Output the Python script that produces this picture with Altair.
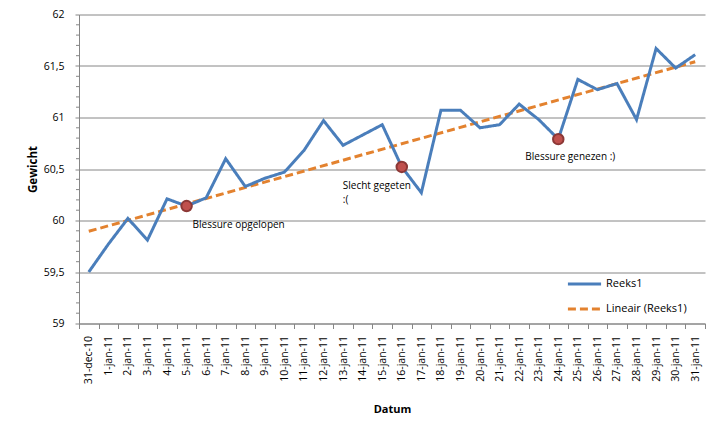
import altair as alt
import pandas as pd

dates = ['31-dec-10', '1-jan-11', '2-jan-11', '3-jan-11', '4-jan-11', '5-jan-11', '6-jan-11',
         '7-jan-11', '8-jan-11', '9-jan-11', '10-jan-11', '11-jan-11', '12-jan-11', '13-jan-11',
         '14-jan-11', '15-jan-11', '16-jan-11', '17-jan-11', '18-jan-11', '19-jan-11', '20-jan-11',
         '21-jan-11', '22-jan-11', '23-jan-11', '24-jan-11', '25-jan-11', '26-jan-11', '27-jan-11',
         '28-jan-11', '29-jan-11', '30-jan-11', '31-jan-11']
weights = [59.50, 59.77, 60.02, 59.81, 60.21, 60.14, 60.22, 60.60, 60.33, 60.41, 60.47, 60.68,
           60.97, 60.73, 60.83, 60.93, 60.52, 60.27, 61.07, 61.07, 60.90, 60.93, 61.13, 60.98,
           60.79, 61.37, 61.27, 61.33, 60.98, 61.67, 61.48, 61.61]
note_dates = ['5-jan-11', '16-jan-11', '24-jan-11']
note_texts = ['Blessure opgelopen', 'Slecht gegeten\n:(', 'Blessure genezen :)']
minor_ticks = [59.1, 59.2, 59.3, 59.4, 59.6, 59.7, 59.8, 59.9, 60.1, 60.2, 60.3, 60.4,
               60.6, 60.7, 60.8, 60.9, 61.1, 61.2, 61.3, 61.4, 61.6, 61.7, 61.8, 61.9]
series_names = ['Reeks1', 'Lineair (Reeks1)']

df = pd.DataFrame({'date': dates, 'idx': list(range(len(dates))), 'w': weights})
df['note'] = ''
for d, t in zip(note_dates, note_texts):
    df.loc[df['date'] == d, 'note'] = t
minor_df = pd.DataFrame({'v': minor_ticks})

FONT = 'Open Sans'
GRAY = '#868686'
BLUE = '#4A7EBB'
ORANGE = '#E3822F'

xenc = alt.X('date:N', sort=dates, bandPosition=0.5,
             scale=alt.Scale(type='band', paddingInner=0, paddingOuter=0),
             axis=alt.Axis(title='Datum', labelAngle=-90, tickBand='extent', tickSize=5,
                           labelPadding=7, labelFontSize=10.5, labelFont=FONT, labelColor='#000',
                           domainColor=GRAY, tickColor=GRAY, grid=False,
                           titleFont=FONT, titleFontSize=11, titleFontWeight='bold',
                           titleColor='#000', titleY=86, titleBaseline='middle'))
yscale = alt.Scale(domain=[59, 62], nice=False, zero=False)
yenc = alt.Y('w:Q', scale=yscale,
             axis=alt.Axis(title='Gewicht', values=[59, 59.5, 60, 60.5, 61, 61.5, 62],
                           labelExpr="replace(format(datum.value, '.1~f'), '.', ',')",
                           tickSize=4, labelPadding=11, labelFontSize=10.5, labelFont=FONT,
                           labelColor='#000', domainColor=GRAY, tickColor=GRAY,
                           gridColor=GRAY, gridWidth=1,
                           titleFont=FONT, titleFontSize=11.5, titleFontWeight='bold',
                           titleColor='#000', titleX=-46, titleY=154.5, titleAngle=-90,
                           titleBaseline='middle', titleAlign='center'))

color_scale = alt.Scale(domain=series_names, range=[BLUE, ORANGE])
dash_scale = alt.Scale(domain=series_names, range=[[1, 0], [8, 4]])
legend = alt.Legend(title=None, orient='none', legendX=487, legendY=251,
                    symbolType='stroke', symbolSize=1100, symbolStrokeWidth=3,
                    labelFont=FONT, labelFontSize=11, labelColor='#000', rowPadding=-8,
                    labelOffset=3)
cenc = alt.Color('series:N', scale=color_scale, legend=legend, sort=series_names)
denc = alt.StrokeDash('series:N', scale=dash_scale, legend=legend, sort=series_names)

base = alt.Chart(df)

minor = alt.Chart(minor_df).mark_rule(color=GRAY, strokeWidth=1).encode(
    x=alt.value(-3), x2=alt.value(0), y=alt.Y('v:Q', scale=yscale))

line = base.transform_calculate(series="'Reeks1'").mark_line(strokeWidth=3).encode(
    x=xenc, y=yenc, color=cenc, strokeDash=denc)

dates_js = '[' + ','.join("'%s'" % d for d in dates) + ']'
trend = base.transform_regression('idx', 'w', method='linear', extent=[0, len(dates) - 1]).transform_calculate(
    date=dates_js + '[datum.idx]', series="'Lineair (Reeks1)'"
).mark_line(strokeWidth=3).encode(
    x=alt.X('date:N', sort=dates, bandPosition=0.5),
    y=alt.Y('w:Q'), color=cenc, strokeDash=denc)

notes = base.transform_filter("datum.note != ''")
markers = notes.mark_point(shape='circle', filled=True, size=110, fill='#C0504D',
                           stroke='#8C3836', strokeWidth=2, opacity=1).encode(
    x=alt.X('date:N', sort=dates, bandPosition=0.5), y=alt.Y('w:Q'))

def note_text(date, dx, dy):
    return base.transform_filter(alt.datum.date == date).mark_text(
        align='left', baseline='middle', dx=dx, dy=dy, font=FONT, fontSize=10,
        color='#000', lineBreak='\n', lineHeight=14).encode(
        x=alt.X('date:N', sort=dates, bandPosition=0.5), y=alt.Y('w:Q'), text='note:N')

t1 = note_text(note_dates[0], 6, 19)
t2 = note_text(note_dates[1], -59, 19)
t3 = note_text(note_dates[2], -33, 18)

chart = alt.layer(minor, trend, line, markers, t1, t2, t3).properties(
    width=626, height=309,
    autosize=alt.AutoSizeParams(type='none'),
    padding={'left': 71, 'top': 6.5, 'right': 8, 'bottom': 100},
    background='white'
).configure_view(strokeWidth=0)

chart.save('out.html', embed_options={'renderer': 'svg', 'actions': False})
